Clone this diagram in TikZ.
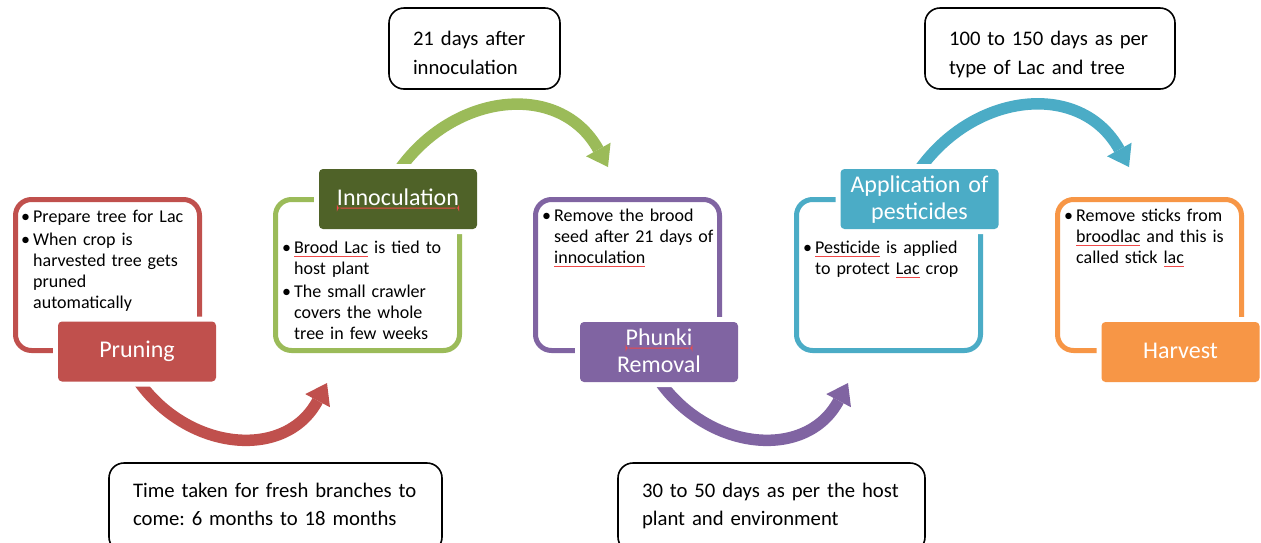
\documentclass[tikz,border=0pt]{standalone}
\usepackage{fontspec}
\setmainfont{Carlito}
\usetikzlibrary{arrows.meta}
\frenchspacing

\definecolor{cRed}{HTML}{C0504D}
\definecolor{cGreen}{HTML}{9BBB59}
\definecolor{cOlive}{HTML}{4F6228}
\definecolor{cPurple}{HTML}{8064A2}
\definecolor{cBlue}{HTML}{4BACC6}
\definecolor{cOrange}{HTML}{F79646}
\definecolor{spell}{HTML}{F04848}

% thin red spell-check mark under a word
\newdimen\sperrwd
\newcommand\sperr[1]{\leavevmode\setbox0=\hbox{#1}\sperrwd=\wd0\box0\relax
  \tikz[overlay,baseline=0pt]\fill[spell]
    (0pt,-2.5pt) rectangle (-\sperrwd,-3.5pt);}
% bullet item with hanging indent
\newcommand\bul[1]{\noindent\hangindent=12pt\hangafter=1\makebox[12pt][l]{\textbullet}#1\par}
\newcommand\lnbr{\hfil\break}

\tikzset{
  panel/.style={draw=#1, line width=5pt, rounded corners=16pt,
    minimum width=184pt, minimum height=151pt, inner sep=0pt},
  tag/.style={fill=#1, rounded corners=4pt, minimum width=158pt,
    minimum height=60pt, inner sep=0pt, text width=158pt, align=center,
    text=white, font=\fontsize{24}{27}\selectfont,
    preaction={draw=white, line width=10pt}},
  oneline/.style={text height=16pt, text depth=4pt},
  twoline/.style={text height=16pt, text depth=30pt},
  body/.style={anchor=base west, inner sep=0pt, text width=200pt,
    font=\fontsize{18}{21}\selectfont},
  note/.style={draw=black, line width=1.6pt, rounded corners=15pt,
    fill=white, inner sep=0pt, align=left,
    font=\fontsize{20.7}{28.5}\selectfont},
  flow/.style={line width=11.5pt, draw=#1,
    -{Triangle[width=28pt,length=20pt,line width=0pt]}},
  dip/.style={out=-57, in=242, looseness=1.19},
  hump/.style={out=57, in=119, looseness=1.2},
}

\begin{document}
\begin{tikzpicture}[x=1pt, y=1pt]
\useasboundingbox (0,0) rectangle (1261,-542);
\fill[white] (0,0) rectangle (1261,-542);
\clip (0,0) rectangle (1261,-542);

% stage frames
\node[panel=cRed]    (f1) at (107.5,-275) {};
\node[panel=cGreen]  (f2) at (367.5,-275) {};
\node[panel=cPurple] (f3) at (627.5,-275) {};
\node[panel=cBlue]   (f4) at (888.5,-275) {};
\node[panel=cOrange] (f5) at (1149.5,-275) {};

% curved arrows between stages
\coordinate (a1s) at (135,-376);  \coordinate (a1e) at (327,-383);
\coordinate (a2s) at (395,-176);  \coordinate (a2e) at (608,-167);
\coordinate (a3s) at (656,-376);  \coordinate (a3e) at (848,-383);
\coordinate (a4s) at (915,-176);  \coordinate (a4e) at (1129,-167);
\draw[flow=cRed]    (a1s) to[dip]  (a1e);
\draw[flow=cGreen]  (a2s) to[hump] (a2e);
\draw[flow=cPurple] (a3s) to[dip]  (a3e);
\draw[flow=cBlue]   (a4s) to[hump] (a4e);

% stage titles
\node[tag=cRed, oneline]    (l1) at (137,-351.5) {Pruning};
\node[tag=cOlive, oneline]  (l2) at (398,-199) {\sperr{Innoculation}};
\node[tag=cPurple, twoline] (l3) at (659,-352) {\sperr{Phunki}\\Removal};
\node[tag=cBlue, twoline]   (l4) at (919.5,-199) {Application of\\pesticides};
\node[tag=cOrange, oneline] (l5) at (1180.5,-352) {Harvest};

% stage descriptions
\node[body] (b1) at (21,-222) {\setlength\parskip{2pt}%
  \bul{Prepare tree for Lac}%
  \bul{When crop is\lnbr harvested tree gets\lnbr pruned\lnbr automatically}};
\node[body] (b2) at (282,-253) {\setlength\parskip{2pt}%
  \bul{\sperr{Brood Lac} is tied to\lnbr host plant}%
  \bul{The small crawler\lnbr covers the whole\lnbr tree in few weeks}};
\node[body] (b3) at (542,-221) {\setlength\parskip{2pt}%
  \bul{Remove the brood\lnbr seed after 21 days of\lnbr \sperr{innoculation}}};
\node[body] (b4) at (803,-253) {\setlength\parskip{2pt}%
  \bul{\sperr{Pesticide} is applied\lnbr to protect \sperr{Lac} crop}};
\node[body] (b5) at (1064,-221) {\setlength\parskip{2pt}%
  \bul{Remove sticks from\lnbr \sperr{broodlac} and this is\lnbr called stick \sperr{lac}}};

% timing notes
\node[note, minimum width=171pt, minimum height=81pt, text width=123pt,
  text height=14pt, text depth=19.6pt] (nA) at (474.5,-48.5)
  {\mbox{21 days after}\\\mbox{innoculation}};
\node[note, minimum width=250pt, minimum height=81pt, text width=202pt,
  text height=14pt, text depth=19.6pt] (nB) at (1050,-48.5)
  {\mbox{100 to 150 days as per}\\\mbox{type of Lac and tree}};
\node[note, minimum width=333pt, minimum height=89pt, text width=285pt,
  text height=14pt, text depth=35pt] (nC) at (275.5,-507.5)
  {\mbox{Time taken for fresh branches to}\\\mbox{come: 6 months to 18 months}};
\node[note, minimum width=307pt, minimum height=89pt, text width=259pt,
  text height=14pt, text depth=35pt] (nD) at (771.5,-507.5)
  {\mbox{30 to 50 days as per the host}\\\mbox{plant and environment}};
\end{tikzpicture}
\end{document}
